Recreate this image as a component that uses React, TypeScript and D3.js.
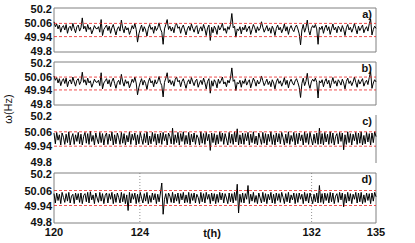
import React from "react";
import * as d3 from "d3";

const xTicks = [120, 124, 132, 135];
const yTicks = [49.8, 49.94, 50.06, 50.2];
const yTickLabels = ["49.8", "49.94", "50.06", "50.2"];
const refLines = [49.94, 50.06];
const gridTimes = [124, 132];
const panelLabels = ["a)", "b)", "c)", "d)"];
const baseHz = 50;

// frequency deviation from 50 Hz, in mHz, evenly sampled over 120..135 h
const devA = [
  75, 30, 55, 10, 45, -20, 25, 40, 0, 50, -30, 20, 35, -5, 60, 15, -25, 30, 45, -10,
  20, 110, 10, 35, -15, 50, 5, 25, -35, 0, 40, 15, 10, 30, -20, 95, -50, 5, 25, 45,
  -5, 35, -30, 20, 50, 0, -45, 10, 30, -10, 90, 15, -25, 35, 0, 20, -40, -5, 40, 10,
  60, 5, -110, -35, 10, 45, -15, 30, 0, -55, 15, 50, 5, 25, -30, 35, -5, 20, 65, 10,
  -20, -130, 10, 50, 95, 5, 35, -10, 25, -25, 40, 60, 15, 30, -30, 20, 45, 0, -45, 10,
  35, -5, 55, 15, -20, 25, 40, -35, 5, 30, -10, 50, 10, -50, 20, 45, -95, 25, -25, 35,
  10, -40, 40, 0, 25, 60, -5, 15, -30, 30, 5, 50, 150, 20, 35, -65, 10, -5, 30, -35,
  25, 0, 45, -15, 15, 35, -40, 5, 50, 20, -25, 30, -5, 15, 75, 25, -20, 10, 40, -10,
  20, -30, 35, 5, -50, 15, 45, 0, 25, -25, 10, 55, -10, 30, -40, 15, 40, 5, -15, 25,
  45, 10, -35, -135, 0, 50, -20, 20, 90, -5, -45, 15, 40, 20, 50, 10, -130, 25, 5, 35,
  -30, 20, 45, -5, 30, -40, 10, 55, 0, 25, -25, 35, 15, -15, 40, 5, -50, 20, 50, 0,
  25, -20, 15, 60, 10, -35, 35, -5, 20, 45, -25, 10, 30, -10, 55, 100, -45, 5, 35, 15,
];

const devB = [
  70, 30, 55, 5, 45, -20, 25, 45, 0, 50, -30, 20, 35, -5, 60, 15, -25, 30, 45, -10,
  20, 105, 10, 35, -15, 50, 5, 25, -35, 0, 40, 15, 10, 30, -20, 100, -50, 5, 25, 45,
  -5, 35, -30, 20, 50, 0, -45, 10, 30, -10, 85, 15, -25, 35, 0, 20, -40, -5, 40, 10,
  60, 5, -105, -35, 10, 45, -15, 30, 0, -55, 15, 50, 5, 25, -30, 35, -5, 20, 65, 10,
  -20, -125, 10, 50, 100, 5, 35, -10, 25, -25, 40, 60, 15, 30, -30, 20, 45, 0, -45, 10,
  35, -5, 55, 15, -20, 25, 40, -35, 5, 30, -10, 50, 10, -50, 20, 45, -90, 25, -25, 35,
  10, -40, 40, 0, 25, 60, -5, 15, -30, 30, 5, 50, 145, 20, 35, -65, 10, -5, 30, -35,
  25, 0, 45, -15, 15, 35, -40, 5, 50, 20, -25, 30, -5, 15, 70, 25, -20, 10, 40, -10,
  20, -30, 35, 5, -50, 15, 45, 0, 25, -25, 10, 55, -10, 30, -40, 15, 40, 5, -15, 25,
  45, 10, -35, -130, 0, 50, -20, 20, 95, -5, -45, 15, 40, 20, 50, 10, -135, 25, 5, 35,
  -30, 20, 45, -5, 30, -40, 10, 55, 0, 25, -25, 35, 15, -15, 40, 5, -50, 20, 50, 0,
  25, -20, 15, 60, 10, -35, 35, -5, 20, 45, -25, 10, 30, -10, 55, 110, -45, 5, 35, 15,
];

const devC = [
  50, -40, 55, -10, 35, -50, 50, 15, -45, 40, -30, 60, -50, 10, 45, -45, 35, -20, 55, -40,
  40, -50, 20, 55, -35, 45, -45, 65, -20, 30, -50, 50, 0, -40, 55, -30, 45, -50, 25, 50,
  -45, 40, -15, 60, -50, 35, -40, 50, 10, -45, 55, -35, 45, -50, 30, -25, 60, -45, 40, -10,
  50, -50, 35, -40, 55, 5, -45, 45, -30, 60, -50, 25, -40, 55, -20, 45, -50, 40, -35, 50,
  -45, 55, -15, 40, -50, 50, 20, -40, 90, -45, 35, -30, 55, -50, 45, -20, 60, -45, 30, -40,
  55, -50, 40, -25, 50, -45, 35, 10, -50, 60, -35, 45, -45, 55, -15, 40, -95, 50, -30, 45,
  -50, 35, -40, 60, -20, 50, -45, 45, 0, -50, 55, -35, 40, -45, 60, -25, 85, -50, 35, -40,
  50, -45, 45, -15, 55, -50, 40, -30, 60, -40, 25, -50, 50, 5, -45, 55, -35, 45, -50, 40,
  -20, 60, -45, 35, -50, 50, -25, 45, -40, 55, 10, -50, 40, -35, 60, -45, 30, -20, 55, -50,
  45, -40, 50, -15, 35, -50, 60, -30, 45, -45, 55, 0, -50, 40, -35, 50, -45, 90, -40, 45,
  -50, 55, -25, 40, -45, 60, -35, 50, -50, 20, 45, -40, 55, -20, 50, -90, 35, -45, 60, -30,
  45, -50, 40, -15, 55, -45, 50, -35, 60, -50, 30, -40, 55, -25, 45, -50, 50, -30, 60, 20,
];

const devD = [
  35, -40, 40, -20, 30, -45, 45, 5, -35, 35, -25, 45, -40, 15, 30, -45, 40, -15, 35, -35,
  40, -45, 20, 35, -30, 45, -40, 50, -15, 25, -45, 40, 0, -35, 45, -25, 35, -45, 20, 40,
  -40, 35, -10, 45, -45, 30, -35, 40, 5, -40, 45, -30, 35, -45, 25, -100, 45, -40, 35, -10,
  40, -45, 30, -35, 45, 0, -40, 35, -25, 45, -45, 20, -35, 40, -15, 35, -45, 30, -30, 40,
  120, -130, -10, 35, -45, 40, 15, -35, 45, -40, 30, -25, 40, -45, 35, -15, 45, -40, 25, -35,
  45, -45, 35, -20, 40, -40, 30, 5, -45, 45, -30, 35, -40, 45, -10, 30, -45, 40, -25, 35,
  -45, 30, -35, 45, -15, 40, -40, 35, 0, -45, 40, -30, 35, -40, 45, -20, 110, -120, 30, -35,
  40, -40, 35, -10, 100, -45, 30, -25, 45, -35, 20, -45, 40, 0, -40, 45, -30, 35, -45, 30,
  -15, 45, -40, 30, -45, 40, -20, 35, -35, 45, 5, -45, 35, -30, 45, -40, 25, -15, 40, -45,
  35, -35, 40, -10, 30, -45, 45, -25, 35, -40, 40, 0, -45, 30, -30, 40, -40, 100, -35, 35,
  -45, 40, -20, 35, -40, 45, -30, 40, -45, 15, 35, -35, 45, -15, 40, -70, 30, -40, 45, -25,
  35, -45, 30, -10, 45, -40, 40, -30, 45, -45, 25, -35, 40, -20, 35, -45, 40, -25, 45, 10,
];

const allSeries = [devA, devB, devC, devD];

const W = 415;
const H = 243;
const X0 = 54;
const X1 = 376;
const panels = [
  { top: 8, bottom: 52, edges: ["top", "bottom", "left", "right"] },
  { top: 62, bottom: 105, edges: ["top", "bottom", "left", "right"] },
  { top: 115, bottom: 163, edges: ["right"] },
  { top: 173, bottom: 223, edges: ["top", "bottom", "left", "right"] },
];

const FONT = "'Liberation Sans', Arial, sans-serif";
const boxColor = "#808080";

export default function App() {
  const x = d3.scaleLinear().domain([120, 135]).range([X0, X1]);

  return (
    <svg
      width={W}
      height={H}
      style={{ position: "absolute", left: 0, top: 0, background: "#fff" }}
      fontFamily={FONT}
    >
      <rect width={W} height={H} fill="#fff" />
      {panels.map((p, pi) => {
        const y = d3.scaleLinear().domain([49.8, 50.2]).range([p.bottom, p.top]);
        const data = allSeries[pi];
        const n = data.length;
        const line = d3
          .line<number>()
          .x((_, i) => x(120 + (i * 15) / (n - 1)))
          .y((d) => y(baseHz + d / 1000));
        return (
          <g key={pi}>
            {pi === 3 &&
              gridTimes.map((t) => (
                <line
                  key={t}
                  x1={x(t)}
                  x2={x(t)}
                  y1={p.top}
                  y2={p.bottom}
                  stroke="#777"
                  strokeWidth={0.8}
                  strokeDasharray="1,2"
                />
              ))}
            {p.edges.includes("top") && (
              <line x1={X0} x2={X1} y1={p.top} y2={p.top} stroke={boxColor} strokeWidth={1} />
            )}
            {p.edges.includes("bottom") && (
              <line x1={X0} x2={X1} y1={p.bottom} y2={p.bottom} stroke={boxColor} strokeWidth={1} />
            )}
            {p.edges.includes("left") && (
              <line x1={X0} x2={X0} y1={p.top} y2={p.bottom} stroke={boxColor} strokeWidth={1} />
            )}
            {p.edges.includes("right") && (
              <line x1={X1} x2={X1} y1={p.top} y2={p.bottom} stroke={boxColor} strokeWidth={1} />
            )}
            <path d={line(data) || ""} fill="none" stroke="#000" strokeWidth={1} />
            {refLines.map((v) => (
              <line
                key={v}
                x1={X0}
                x2={X1}
                y1={y(v)}
                y2={y(v)}
                stroke="#ee2020"
                strokeWidth={1}
                strokeDasharray="3,2"
                opacity={0.8}
              />
            ))}
            {yTicks.map((v, i) => (
              <text
                key={v}
                x={X0 - 2}
                y={y(v) + (v === 49.8 ? 3 : v === 50.2 ? 5 : 4)}
                textAnchor="end"
                fontSize={11}
                fontWeight="bold"
                fill="#111"
              >
                {yTickLabels[i]}
              </text>
            ))}
            <text
              x={372}
              y={p.top + 10}
              textAnchor="end"
              fontSize={11}
              fontWeight="bold"
              fill="#111"
            >
              {panelLabels[pi]}
            </text>
          </g>
        );
      })}
      {xTicks.map((t) => (
        <text
          key={t}
          x={x(t)}
          y={236}
          textAnchor="middle"
          fontSize={11}
          fontWeight="bold"
          fill="#111"
        >
          {t}
        </text>
      ))}
      <text x={212} y={237} textAnchor="middle" fontSize={11} fontWeight="bold" fill="#111">
        t(h)
      </text>
      <text
        transform="translate(12,109) rotate(-90)"
        textAnchor="middle"
        fontSize={11}
        fill="#111"
      >
        ω(Hz)
      </text>
    </svg>
  );
}
